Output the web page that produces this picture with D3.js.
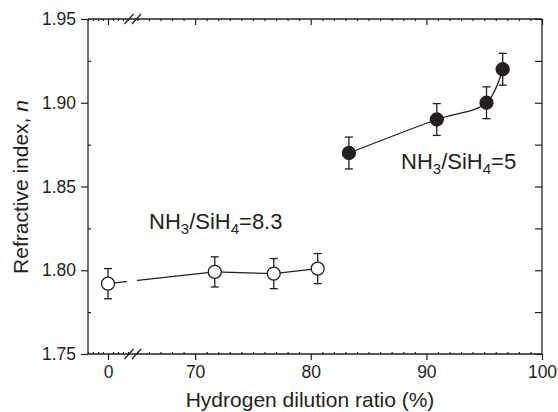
<!DOCTYPE html>
<html>
<head>
<meta charset="utf-8">
<script src="https://cdn.jsdelivr.net/npm/d3@7"></script>
<style>
  body { margin: 0; background: #fff; }
  text { font-family: "Liberation Sans", Arial, sans-serif; fill: #231f20; }
  .axis path { display: none; }
  .axis line { stroke: #231f20; stroke-width: 1.2; }
</style>
</head>
<body>
<script>
// data
const dilutionLow = [0, 71.7, 76.8, 80.6];
const indexLow = [1.792, 1.799, 1.798, 1.801];
const errLow = [0.009, 0.009, 0.009, 0.009];

const dilutionHigh = [83.3, 90.9, 95.2, 96.6];
const indexHigh = [1.870, 1.890, 1.900, 1.920];
const errHigh = [0.0095, 0.0095, 0.0095, 0.0095];

const yTicks = [1.75, 1.80, 1.85, 1.90, 1.95];
const yMinor = [1.775, 1.825, 1.875, 1.925];
const xTicksLeft = [0];
const xTicksRight = [70, 80, 90, 100];

const width = 558, height = 412;
const plotLeft = 88, plotRight = 542, plotTop = 19, plotBottom = 354;

const svg = d3.select('body').append('svg')
    .attr('width', width)
    .attr('height', height);

// broken x axis: two linear pieces
const xL = d3.scaleLinear().domain([-4, 4]).range([plotLeft, 128]);
const xR = d3.scaleLinear().domain([64.8, 100]).range([135, plotRight]);
const x = v => v < 30 ? xL(v) : xR(v);
const y = d3.scaleLinear().domain([1.75, 1.95]).range([plotBottom, plotTop]);

const fmt = d3.format('.2f');

// frame lines
svg.append('g').attr('stroke', '#231f20').attr('stroke-width', 1.3)
    .selectAll('line')
    .data([[plotLeft, plotTop, plotRight, plotTop], [plotLeft, plotBottom, plotRight, plotBottom],
           [plotLeft, plotTop, plotLeft, plotBottom], [plotRight, plotTop, plotRight, plotBottom]])
    .enter().append('line')
    .attr('x1', d => d[0]).attr('y1', d => d[1])
    .attr('x2', d => d[2]).attr('y2', d => d[3]);

// bottom axis: labels and outward major ticks, top axis inward ticks
[[xL, xTicksLeft], [xR, xTicksRight]].forEach(([s, vals]) => {
    svg.append('g').attr('class', 'axis')
        .attr('transform', 'translate(0,' + plotBottom + ')')
        .call(d3.axisBottom(s).tickValues(vals).tickSize(6).tickPadding(6))
        .selectAll('text').attr('font-size', 17.5);
    svg.append('g').attr('class', 'axis')
        .attr('transform', 'translate(0,' + plotTop + ')')
        .call(d3.axisBottom(s).tickValues(vals).tickSize(6).tickFormat(''));
});

// minor ticks on top and bottom
const minorL = d3.range(-4, 5).filter(v => v !== 0);
const minorR = d3.range(65, 100).filter(v => v % 10 !== 0);
[[xL, minorL], [xR, minorR]].forEach(([s, vals]) => {
    svg.append('g').attr('class', 'axis')
        .attr('transform', 'translate(0,' + plotBottom + ')')
        .call(d3.axisTop(s).tickValues(vals).tickSize(2).tickFormat(''));
    svg.append('g').attr('class', 'axis')
        .attr('transform', 'translate(0,' + plotTop + ')')
        .call(d3.axisBottom(s).tickValues(vals).tickSize(2).tickFormat(''));
});

// break marks
[plotTop, plotBottom].forEach(yy => {
    [129, 136.5].forEach(cx => {
        svg.append('line')
            .attr('x1', cx - 4.5).attr('y1', yy + 5)
            .attr('x2', cx + 4.5).attr('y2', yy - 5)
            .attr('stroke', '#231f20').attr('stroke-width', 1.2);
    });
});

// left y axis
svg.append('g').attr('class', 'axis')
    .attr('transform', 'translate(' + plotLeft + ',0)')
    .call(d3.axisLeft(y).tickValues(yTicks).tickSize(7).tickPadding(5).tickFormat(fmt))
    .selectAll('text').attr('font-size', 17.5);
svg.append('g').attr('class', 'axis')
    .attr('transform', 'translate(' + plotLeft + ',0)')
    .call(d3.axisRight(y).tickValues(yMinor).tickSize(3).tickFormat(''));

// right y axis, inward
svg.append('g').attr('class', 'axis')
    .attr('transform', 'translate(' + plotRight + ',0)')
    .call(d3.axisLeft(y).tickValues(yTicks.concat(yMinor)).tickSize(7).tickFormat(''));

// axis titles
svg.append('text')
    .attr('x', 310)
    .attr('y', 407)
    .attr('text-anchor', 'middle')
    .attr('font-size', 21)
    .text('Hydrogen dilution ratio (%)');

const yt = svg.append('text')
    .attr('transform', 'translate(28,187) rotate(-90)')
    .attr('text-anchor', 'middle')
    .attr('font-size', 21);
yt.append('tspan').text('Refractive index, ');
yt.append('tspan').attr('font-style', 'italic').text('n');

// series
const low = dilutionLow.map((d, i) => ({x: d, y: indexLow[i], e: errLow[i]}));
const high = dilutionHigh.map((d, i) => ({x: d, y: indexHigh[i], e: errHigh[i]}));

// clip out the line where it crosses the axis break
const clip = svg.append('clipPath').attr('id', 'gapClip');
clip.append('rect').attr('x', 0).attr('y', 0).attr('width', 127).attr('height', height);
clip.append('rect').attr('x', 137).attr('y', 0).attr('width', width - 137).attr('height', height);

svg.append('path')
    .datum(low)
    .attr('clip-path', 'url(#gapClip)')
    .attr('fill', 'none')
    .attr('stroke', '#231f20')
    .attr('stroke-width', 1.3)
    .attr('d', d3.line().x(d => x(d.x)).y(d => y(d.y)));

svg.append('path')
    .datum(high)
    .attr('fill', 'none')
    .attr('stroke', '#231f20')
    .attr('stroke-width', 1.3)
    .attr('d', d3.line().x(d => x(d.x)).y(d => y(d.y)).curve(d3.curveCatmullRom.alpha(0.5)));

function drawPoints(data, fill) {
    const g = svg.append('g').attr('stroke', '#231f20').attr('stroke-width', 1.3);
    const pts = g.selectAll('g').data(data).enter().append('g');
    pts.append('line')
        .attr('x1', d => x(d.x)).attr('x2', d => x(d.x))
        .attr('y1', d => y(d.y - d.e)).attr('y2', d => y(d.y + d.e));
    [1, -1].forEach(sgn => {
        pts.append('line')
            .attr('x1', d => x(d.x) - 4).attr('x2', d => x(d.x) + 4)
            .attr('y1', d => y(d.y + sgn * d.e)).attr('y2', d => y(d.y + sgn * d.e));
    });
    pts.append('circle')
        .attr('cx', d => x(d.x)).attr('cy', d => y(d.y))
        .attr('r', 6.5)
        .attr('fill', fill);
}
drawPoints(low, '#fff');
drawPoints(high, '#231f20');

// annotations
function label(px, py, ratio) {
    const t = svg.append('text').attr('x', px).attr('y', py).attr('font-size', 22);
    t.append('tspan').text('NH');
    t.append('tspan').attr('font-size', 15).attr('dy', 5).text('3');
    t.append('tspan').attr('dy', -5).text('/SiH');
    t.append('tspan').attr('font-size', 15).attr('dy', 5).text('4');
    t.append('tspan').attr('dy', -5).text('=' + ratio);
}
label(149, 229, '8.3');
label(401, 169, '5');
</script>
</body>
</html>
